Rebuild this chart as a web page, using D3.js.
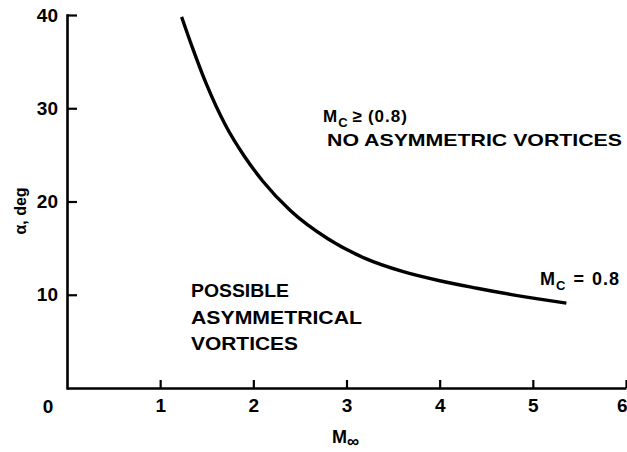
<!DOCTYPE html>
<html>
<head>
<meta charset="utf-8">
<script src="https://cdn.jsdelivr.net/npm/d3@7"></script>
<style>
  body { margin: 0; background: #fff; }
  text { font-family: "Liberation Sans", Arial, sans-serif; fill: #000; }
</style>
</head>
<body>
<svg width="627" height="452"></svg>
<script>
(function() {
  'use strict';

  // boundary curve M_c = 0.8
  var machValues  = [1.23, 1.35, 1.5, 1.7, 1.9, 2.1, 2.4, 2.8, 3.2, 3.6, 4.0, 4.4, 4.9, 5.36];
  var alphaValues = [39.8, 36.4, 32.5, 28.2, 24.9, 22.2, 19.0, 16.0, 13.9, 12.5, 11.5, 10.7, 9.8, 9.1];
  var xTicks = [1, 2, 3, 4, 5, 6];
  var yTicks = [10, 20, 30, 40];
  var regionLines = ["POSSIBLE", "ASYMMETRICAL", "VORTICES"];
  var regionWidths = [98, 171, 107];

  var svg = d3.select("svg");

  var x = d3.scaleLinear().domain([0, 6]).range([67, 626]);
  var y = d3.scaleLinear().domain([0, 40]).range([388, 15]);

  var xAxis = svg.append("g")
      .attr("transform", "translate(0," + y(0) + ")")
      .call(d3.axisBottom(x)
        .tickValues(xTicks)
        .tickFormat(d3.format("d"))
        .tickSizeInner(-8)
        .tickSizeOuter(0)
        .tickPadding(11));

  var yAxis = svg.append("g")
      .attr("transform", "translate(" + x(0) + ",0)")
      .call(d3.axisLeft(y)
        .tickValues(yTicks)
        .tickFormat(d3.format("d"))
        .tickSizeInner(-10)
        .tickSizeOuter(0)
        .tickPadding(9));

  [xAxis, yAxis].forEach(function(g) {
    g.select(".domain").attr("stroke-width", 2.6);
    g.selectAll(".tick line").attr("stroke-width", 2.2);
    g.selectAll(".tick text")
      .attr("font-size", 19)
      .attr("font-weight", "bold")
      .attr("font-family", "Liberation Sans, Arial, sans-serif")
      .attr("fill", "#000");
  });
  yAxis.select(".domain").attr("stroke-linecap", "square");
  // last x label sits on the right edge
  xAxis.selectAll(".tick text")
    .filter(function(d) { return d === 6; })
      .attr("text-anchor", "end")
      .attr("x", 1);

  // origin label
  svg.append("text")
      .attr("x", x(0) - 19)
      .attr("y", y(0) + 25)
      .attr("text-anchor", "middle")
      .attr("font-size", 19)
      .attr("font-weight", "bold")
      .text("0");

  // curve
  var line = d3.line()
      .x(function(d) { return x(d[0]); })
      .y(function(d) { return y(d[1]); })
      .curve(d3.curveMonotoneX);

  svg.append("path")
      .datum(d3.zip(machValues, alphaValues))
      .attr("fill", "none")
      .attr("stroke", "#000")
      .attr("stroke-width", 3.4)
      .attr("d", line);

  // axis titles
  var xt = svg.append("text")
      .attr("x", 332)
      .attr("y", 443)
      .attr("font-size", 18)
      .attr("font-weight", "bold");
  xt.append("tspan").text("M");
  xt.append("tspan").attr("dy", 4).attr("font-size", 17).text("\u221e");

  svg.append("text")
      .attr("transform", "translate(26,211) rotate(-90)")
      .attr("text-anchor", "middle")
      .attr("font-size", 16)
      .attr("font-weight", "bold")
      .text("\u03b1, deg");

  // region labels
  var t1 = svg.append("text")
      .attr("x", 323).attr("y", 122)
      .attr("font-size", 17).attr("font-weight", "bold")
      .attr("letter-spacing", 1);
  t1.append("tspan").text("M");
  t1.append("tspan").attr("dy", 5).attr("font-size", 13).text("C");
  t1.append("tspan").attr("dy", -5).attr("dx", 4).text("\u2265");
  t1.append("tspan").attr("dx", 5).text("(0.8)");

  svg.append("text")
      .attr("x", 327).attr("y", 146)
      .attr("font-size", 17).attr("font-weight", "bold")
      .attr("textLength", 295).attr("lengthAdjust", "spacingAndGlyphs")
      .text("NO ASYMMETRIC VORTICES");

  svg.append("g").selectAll("text")
    .data(regionLines)
    .enter().append("text")
      .attr("x", 191)
      .attr("y", function(d, i) { return 297 + i * 26.5; })
      .attr("font-size", 18.5)
      .attr("font-weight", "bold")
      .attr("textLength", function(d, i) { return regionWidths[i]; })
      .attr("lengthAdjust", "spacingAndGlyphs")
      .text(function(d) { return d; });

  var t2 = svg.append("text")
      .attr("x", 540).attr("y", 285)
      .attr("font-size", 18).attr("font-weight", "bold")
      .attr("letter-spacing", 1);
  t2.append("tspan").text("M");
  t2.append("tspan").attr("dy", 5).attr("font-size", 13).text("C");
  t2.append("tspan").attr("dy", -5).attr("dx", 7).text("=");
  t2.append("tspan").attr("dx", 7).text("0.8");
}());
</script>
</body>
</html>
